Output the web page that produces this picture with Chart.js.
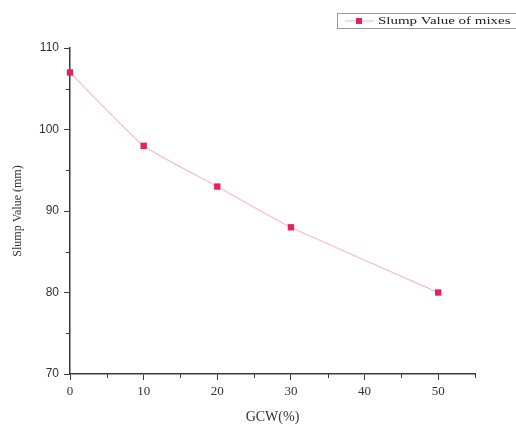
<!DOCTYPE html>
<html>
<head>
<meta charset="utf-8">
<script src="https://cdn.jsdelivr.net/npm/chart.js@4"></script>
<style>
html,body{margin:0;padding:0;background:#fff;}
#wrap{width:516px;height:427px;position:relative;}
</style>
</head>
<body>
<div id="wrap"><canvas id="c" width="516" height="427"></canvas></div>
<script>
const seriesLabel = 'Slump Value of mixes';
const gcw = [0, 10, 20, 30, 50];
const slump = [107, 98, 93, 88, 80];
const xTicks = [0, 10, 20, 30, 40, 50];
const yTicks = [70, 80, 90, 100, 110];

const serif = '"Liberation Serif", "DejaVu Serif", serif';
const sans = '"Liberation Sans", Arial, sans-serif';
const axisColor = '#3a3a3a';
const markerColor = '#e3245a';
const lineColor = 'rgba(240,160,180,0.7)';

const extras = {
  id: 'extras',
  afterDraw(chart) {
    const ctx = chart.ctx;
    const xs = chart.scales.x, ys = chart.scales.y;
    const ca = chart.chartArea;
    ctx.save();
    ctx.strokeStyle = axisColor;
    ctx.lineWidth = 1;
    // minor ticks
    for (let v = 75; v < 110; v += 10) {
      const py = Math.round(ys.getPixelForValue(v)) + 0.5;
      ctx.beginPath(); ctx.moveTo(ca.left - 4, py); ctx.lineTo(ca.left, py); ctx.stroke();
    }
    for (let v = 5; v <= 55; v += 10) {
      const px = Math.round(xs.getPixelForValue(v)) + 0.5;
      ctx.beginPath(); ctx.moveTo(px, ca.bottom); ctx.lineTo(px, ca.bottom + 4); ctx.stroke();
    }
    // legend
    const bx = 337, by = 13, bw = 200, bh = 15;
    ctx.strokeStyle = '#9a9a9a';
    ctx.lineWidth = 1;
    ctx.strokeRect(bx + 0.5, by + 0.5, bw, bh);
    const ly = by + 8;
    ctx.strokeStyle = lineColor;
    ctx.lineWidth = 1.2;
    ctx.beginPath(); ctx.moveTo(345, ly); ctx.lineTo(374, ly); ctx.stroke();
    ctx.fillStyle = markerColor;
    ctx.fillRect(356, ly - 3, 6, 6);
    ctx.fillStyle = '#222';
    ctx.font = '11px ' + serif;
    ctx.textBaseline = 'middle';
    ctx.textAlign = 'left';
    ctx.translate(378, ly);
    ctx.scale(1.36, 1);
    ctx.fillText(seriesLabel, 0, 0);
    ctx.restore();
  }
};

new Chart(document.getElementById('c'), {
  type: 'line',
  data: {
    datasets: [{
      label: seriesLabel,
      data: gcw.map((x, i) => ({x: x, y: slump[i]})),
      borderColor: lineColor,
      borderWidth: 1.2,
      tension: 0.15,
      pointStyle: 'rect',
      pointRadius: 4.5,
      pointBackgroundColor: markerColor,
      pointBorderColor: markerColor,
      pointBorderWidth: 0,
      clip: false
    }]
  },
  options: {
    responsive: false,
    animation: false,
    devicePixelRatio: 1,
    layout: {padding: {top: 48, right: 41, left: 0, bottom: 0}},
    plugins: {legend: {display: false}, tooltip: {enabled: false}},
    scales: {
      x: {
        type: 'linear',
        min: 0, max: 55,
        afterFit(s) { s.height = 53; },
        afterBuildTicks(s) { s.ticks = xTicks.map(v => ({value: v})); },
        ticks: {color: '#333', font: {family: serif, size: 13}, padding: 4, maxRotation: 0},
        grid: {display: true, drawOnChartArea: false, drawTicks: true, tickLength: 6, color: axisColor},
        border: {display: true, color: axisColor, width: 1.5},
        title: {display: true, text: 'GCW(%)', color: '#333', font: {family: serif, size: 14}, padding: {top: 6, bottom: 1}}
      },
      y: {
        type: 'linear',
        min: 70, max: 110,
        afterFit(s) { s.width = 70; },
        afterBuildTicks(s) { s.ticks = yTicks.map(v => ({value: v})); },
        ticks: {color: '#333', font: {family: sans, size: 12}, padding: 5},
        grid: {display: true, drawOnChartArea: false, drawTicks: true, tickLength: 6, color: axisColor},
        border: {display: true, color: axisColor, width: 1.5},
        title: {display: true, text: 'Slump Value (mm)', color: '#333', font: {family: serif, size: 12}, padding: {top: 11, bottom: 0}}
      }
    }
  },
  plugins: [extras]
});
</script>
</body>
</html>
